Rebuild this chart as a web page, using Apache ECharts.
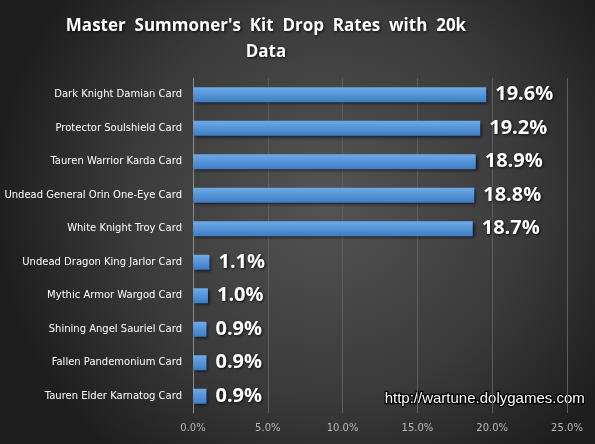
<!DOCTYPE html>
<html>
<head>
<meta charset="utf-8">
<script src="https://cdn.jsdelivr.net/npm/echarts@6/dist/echarts.min.js"></script>
<style>
html, body { margin: 0; padding: 0; }
#chart { width: 595px; height: 444px; }
</style>
</head>
<body>
<div id="chart"></div>
<script>
// categories listed bottom to top (category axis on y starts at the bottom)
var cards = [
  'Tauren Elder Karnatog Card',
  'Fallen Pandemonium Card',
  'Shining Angel Sauriel Card',
  'Mythic Armor Wargod Card',
  'Undead Dragon King Jarlor Card',
  'White Knight Troy Card',
  'Undead General Orin One-Eye Card',
  'Tauren Warrior Karda Card',
  'Protector Soulshield Card',
  'Dark Knight Damian Card'
];
var dropRates = [0.9, 0.9, 0.9, 1.0, 1.1, 18.7, 18.8, 18.9, 19.2, 19.6];

var chart = echarts.init(document.getElementById('chart'));
chart.setOption({
  backgroundColor: {
    type: 'radial', x: 0.55, y: 0.45, r: 0.75,
    colorStops: [
      { offset: 0, color: '#545454' },
      { offset: 0.6, color: '#3a3a3a' },
      { offset: 1, color: '#1e1e1e' }
    ]
  },
  title: {
    text: "Master  Summoner's  Kit  Drop  Rates  with  20k\nData",
    left: 261,
    textAlign: 'center',
    top: 8,
    textStyle: {
      color: '#ffffff',
      fontFamily: 'Open Sans',
      fontWeight: 'bold',
      fontSize: 17,
      lineHeight: 26,
      textShadowColor: 'rgba(0,0,0,0.8)',
      textShadowBlur: 3,
      textShadowOffsetX: 1,
      textShadowOffsetY: 1
    }
  },
  grid: { left: 193, right: 28, top: 78, bottom: 31 },
  xAxis: {
    type: 'value',
    min: 0,
    max: 25,
    interval: 5,
    axisLine: { show: false },
    axisTick: { show: false },
    splitLine: { lineStyle: { color: '#5e5e5e', width: 1 } },
    axisLabel: {
      color: '#b8b8b8',
      fontFamily: 'DejaVu Sans',
      fontSize: 10,
      margin: 10,
      formatter: function (v) { return v.toFixed(1) + '%'; }
    }
  },
  yAxis: {
    type: 'category',
    data: cards,
    axisLine: { lineStyle: { color: '#8a8a8a', width: 1 } },
    axisTick: { show: false },
    axisLabel: {
      color: '#ffffff',
      fontFamily: 'DejaVu Sans',
      fontSize: 10,
      margin: 11
    }
  },
  series: [{
    type: 'bar',
    data: dropRates,
    barWidth: 15,
    itemStyle: {
      color: {
        type: 'linear', x: 0, y: 0, x2: 0, y2: 1,
        colorStops: [
          { offset: 0, color: '#6eaae6' },
          { offset: 0.5, color: '#5594d8' },
          { offset: 1, color: '#3f7cc2' }
        ]
      },
      shadowColor: 'rgba(0,0,0,0.6)',
      shadowBlur: 3,
      shadowOffsetX: 2,
      shadowOffsetY: 2
    },
    label: {
      show: true,
      position: 'right',
      distance: 9,
      color: '#ffffff',
      fontFamily: 'Open Sans',
      fontWeight: 'bold',
      fontSize: 20,
      textShadowColor: 'rgba(0,0,0,0.8)',
      textShadowBlur: 3,
      textShadowOffsetX: 1,
      textShadowOffsetY: 1,
      formatter: function (p) { return p.value.toFixed(1) + '%'; }
    }
  }],
  graphic: [{
    type: 'text',
    right: 9,
    top: 390,
    style: {
      text: 'http://wartune.dolygames.com',
      fill: '#ffffff',
      stroke: '#000000',
      lineWidth: 2.5,
      font: '15px "Liberation Sans"'
    }
  }]
});
</script>
</body>
</html>
